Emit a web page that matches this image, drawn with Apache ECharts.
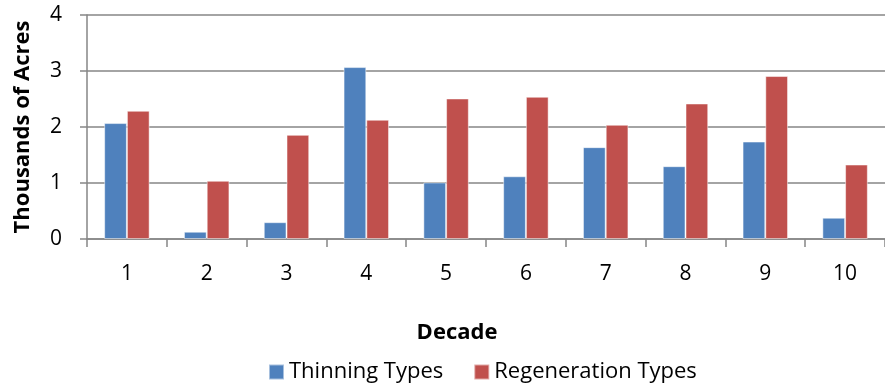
<!DOCTYPE html>
<html><head><meta charset="utf-8">
<script src="https://cdn.jsdelivr.net/npm/echarts@6/dist/echarts.min.js"></script>
<style>html,body{margin:0;padding:0;background:#fff}#c{width:885px;height:385px}</style>
</head><body><div id="c"></div>
<script>
const categories = ['1','2','3','4','5','6','7','8','9','10'];
const thinning = [2.07, 0.13, 0.30, 3.07, 1.01, 1.12, 1.64, 1.30, 1.74, 0.38];
const regeneration = [2.29, 1.04, 1.86, 2.13, 2.51, 2.54, 2.04, 2.42, 2.91, 1.33];
const seriesNames = ['Thinning Types', 'Regeneration Types'];
const yTicks = [0, 1, 2, 3, 4];

const font = 'Open Sans';
const chart = echarts.init(document.getElementById('c'));
chart.setOption({
  animation: false,
  color: ['#4F81BD', '#C0504D'],
  grid: { left: 87, top: 15, width: 805, height: 224, containLabel: false },
  legend: {
    top: 361, left: 268, padding: 0, itemWidth: 15, itemHeight: 15, itemGap: 30,
    icon: 'rect',
    textStyle: { fontFamily: font, fontSize: 22, color: '#000' },
    data: seriesNames
  },
  xAxis: {
    type: 'category', data: categories,
    name: 'Decade', nameLocation: 'middle', nameGap: 83,
    nameTextStyle: { fontFamily: font, fontSize: 22, fontWeight: 'bold', color: '#000', padding: [0, 58, 0, 0] },
    axisLine: { lineStyle: { color: '#868686', width: 1.5 } },
    axisTick: { show: true, length: 8, lineStyle: { color: '#868686', width: 1.5 } },
    axisLabel: { fontFamily: font, fontSize: 21, color: '#000', margin: 25 }
  },
  yAxis: {
    type: 'value', min: yTicks[0], max: yTicks[yTicks.length - 1], interval: 1,
    name: 'Thousands of Acres', nameLocation: 'middle', nameGap: 53,
    nameTextStyle: { fontFamily: font, fontSize: 22, fontWeight: 'bold', color: '#000' },
    axisLine: { show: true, lineStyle: { color: '#868686', width: 1.5 } },
    axisTick: { show: true, length: 7, lineStyle: { color: '#868686', width: 1.5 } },
    axisLabel: { fontFamily: font, fontSize: 21, color: '#000', margin: 25 },
    splitLine: { lineStyle: { color: '#868686', width: 1.5 } }
  },
  series: [
    { name: seriesNames[0], type: 'bar', data: thinning, barGap: '0%', barCategoryGap: '43%',
      itemStyle: { borderColor: 'rgba(255,255,255,0.5)', borderWidth: 1 } },
    { name: seriesNames[1], type: 'bar', data: regeneration, barGap: '0%', barCategoryGap: '43%',
      itemStyle: { borderColor: 'rgba(255,255,255,0.5)', borderWidth: 1 } }
  ]
});
</script></body></html>
